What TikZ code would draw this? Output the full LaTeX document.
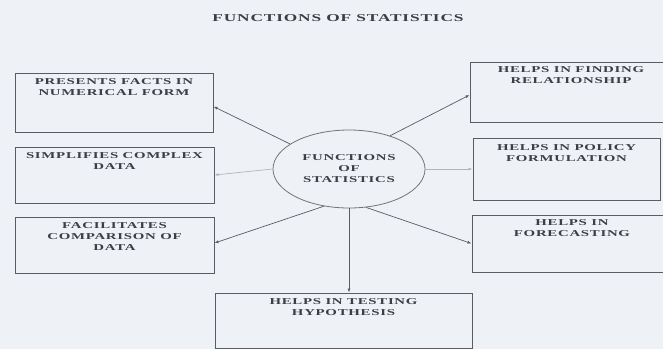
\documentclass[tikz,border=0pt]{standalone}
\usepackage{fontspec}
\setmainfont{Liberation Serif}
\newfontfamily\statfont[FakeStretch=1.65,LetterSpace=8]{Liberation Serif}
\usetikzlibrary{positioning,shapes.geometric,arrows.meta}
\definecolor{paper}{HTML}{EEF1F6}
\definecolor{ink}{HTML}{3C3D45}
\definecolor{rule}{HTML}{5A5B63}
\tikzstyle{func} = [draw=rule, line width=1pt, inner sep=0pt]
\tikzstyle{functext} = [text=ink, font=\statfont\bfseries\fontsize{9}{11}\selectfont, align=center, inner sep=0pt]
\tikzstyle{hub} = [ellipse, draw=rule!85, line width=0.8pt, minimum width=152pt, minimum height=78pt, inner sep=0pt]
\tikzstyle{link} = [draw=rule, line width=0.7pt, -{Latex[length=4pt,width=3pt]}]
\tikzstyle{faint} = [draw=rule!45]

\begin{document}
\begin{tikzpicture}[x=1pt, y=-1pt]
		\useasboundingbox (0,0) rectangle (663,349);
		\fill[paper] (0,0) rectangle (663,349);

		% heading
		\node[functext, font=\statfont\bfseries\fontsize{10.5}{12}\selectfont] (title) at (338,18) {FUNCTIONS OF STATISTICS};

		% centre
		\node[hub, functext] (e) at (349,169) {FUNCTIONS\\OF\\STATISTICS};

		% left column
		\node[func, minimum width=198pt, minimum height=59pt] (pf) at (114,102.5) {};
		\node[functext, below=6pt of pf.north] (pft) {PRESENTS FACTS IN\\NUMERICAL FORM};
		\node[func, minimum width=199pt, minimum height=56pt] (sc) at (114.5,175) {};
		\node[functext, below=6pt of sc.north] (sct) {SIMPLIFIES COMPLEX\\DATA};
		\node[func, minimum width=199pt, minimum height=56pt] (fc) at (114.5,245) {};
		\node[functext, below=6pt of fc.north] (fct) {FACILITATES\\COMPARISON OF\\DATA};

		% right column
		\node[func, minimum width=202pt, minimum height=60pt] (hr) at (571,92) {};
		\node[functext, below=5pt of hr.north] (hrt) {HELPS IN FINDING\\RELATIONSHIP};
		\node[func, minimum width=187pt, minimum height=62pt] (hp) at (566.5,169) {};
		\node[functext, below=7pt of hp.north] (hpt) {HELPS IN POLICY\\FORMULATION};
		\node[func, minimum width=200pt, minimum height=57pt] (hf) at (572,243.5) {};
		\node[functext, below=5pt of hf.north] (hft) {HELPS IN\\FORECASTING};

		% bottom
		\node[func, minimum width=257pt, minimum height=55pt] (ht) at (343.5,320.5) {};
		\node[functext, below=6pt of ht.north] (htt) {HELPS IN TESTING\\HYPOTHESIS};

		% arrows out of the centre
		\draw[link] (e.157) -- ([yshift=-4pt]pf.east);
		\draw[link, faint] (e.west) -- (sc.east);
		\draw[link] (e.236) -- ([yshift=2pt]fc.east);
		\draw[link] (e.39) -- ([yshift=-3pt]hr.west);
		\draw[link, faint] (e.east) -- (hp.west);
		\draw[link] (e.294) -- (hf.west);
		\draw[link] (e.south) -- (e.south |- ht.north);
\end{tikzpicture}
\end{document}
